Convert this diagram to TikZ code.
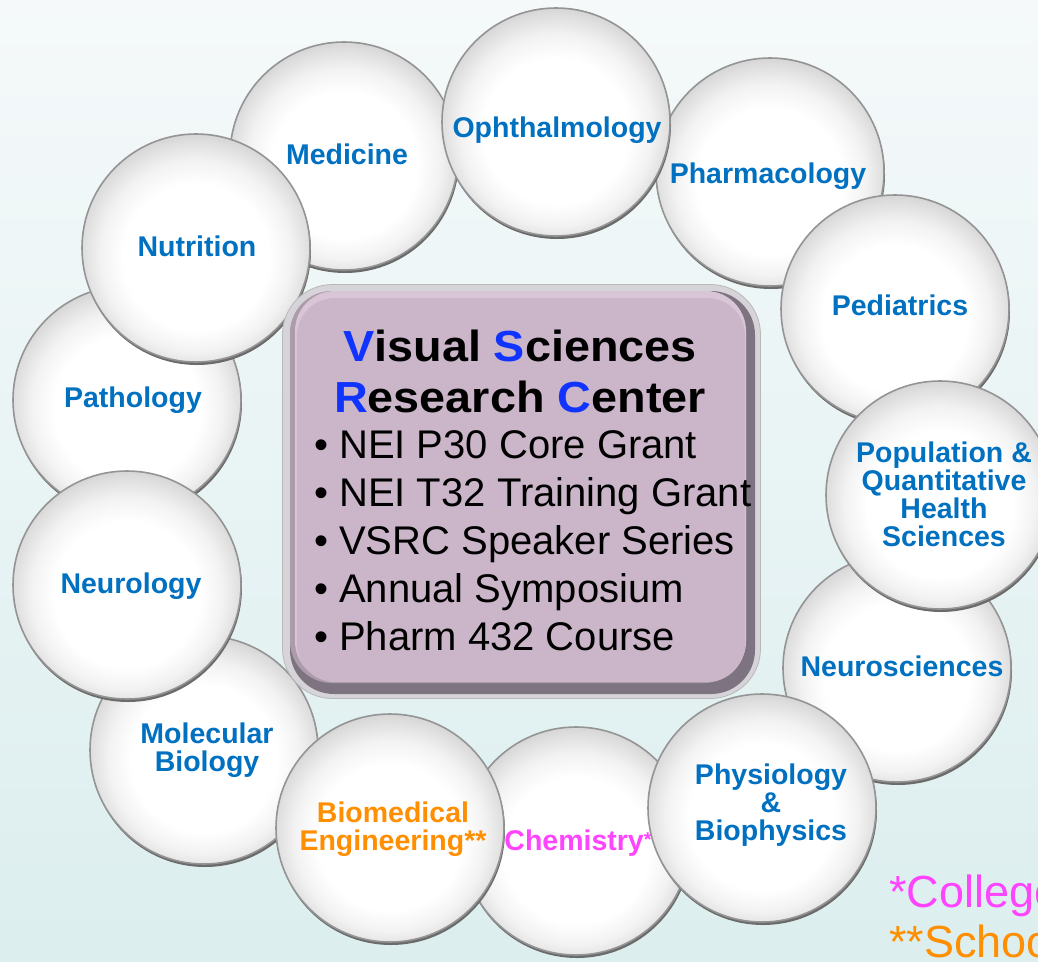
\documentclass[tikz,border=0pt]{standalone}
\usepackage{fontspec}
\setmainfont{Liberation Sans}
\newfontfamily\titlefont{Liberation Sans}[FakeStretch=1.075]
\usetikzlibrary{shadows}

\definecolor{bgtop}{HTML}{F5F9FA}
\definecolor{bgbot}{HTML}{DCEEEE}
\definecolor{lblblue}{HTML}{0070C0}
\definecolor{initblue}{HTML}{1033FF}
\definecolor{collegepink}{HTML}{FF44FF}
\definecolor{schoolorange}{HTML}{FF8F00}
\definecolor{boxrim}{HTML}{D6D4D8}
\definecolor{boxdark}{HTML}{7E7380}
\definecolor{boxleft}{HTML}{AC9BAB}
\definecolor{boxlight}{HTML}{D8C5D6}
\definecolor{boxfill}{HTML}{CBB5C9}

% glassy bubble: white core, soft grey band inside the upper rim
% (the central 50bp square of a shading is fitted to the path, so the rim sits at 25bp)
\pgfdeclareradialshading{glass}{\pgfpoint{0bp}{-3bp}}{%
  color(0bp)=(white); color(16bp)=(white); color(21bp)=(black!5);
  color(25bp)=(black!13); color(28bp)=(black!20); color(50bp)=(black!20)}

% struts that fix the line box of each text style
\newcommand\lblstrut{\rule[-7pt]{0pt}{28pt}}
\newcommand\ttlstrut{\rule[-10pt]{0pt}{44pt}}
\newcommand\itmstrut{\rule[-10pt]{0pt}{40pt}}

\tikzset{
  bubble/.style={circle, minimum size=228pt, inner sep=0pt,
    draw=black!42, line width=1.6pt, shade, shading=glass,
    drop shadow={shadow xshift=1pt, shadow yshift=-3pt, fill=black!58, opacity=1}},
  lbl/.style={font=\bfseries\fontsize{28.5}{28}\selectfont, text=lblblue,
    align=center, inner sep=0pt},
  vsrcbox/.style={rectangle, rounded corners=50pt, minimum width=478pt,
    minimum height=414pt, fill=boxrim, draw=black!28, line width=0.8pt},
  ttl/.style={font=\titlefont\bfseries\fontsize{43.5}{51}\selectfont,
    align=center, inner sep=0pt},
  items/.style={font=\fontsize{40}{48}\selectfont, align=left, inner sep=0pt},
  note/.style={font=\fontsize{45}{50}\selectfont, inner sep=0pt, anchor=base west},
}

\begin{document}
\begin{tikzpicture}[x=1pt, y=-1pt]
  \useasboundingbox (0,0) rectangle (1038,961);
  \clip (0,0) rectangle (1038,961);
  \shade[top color=bgtop, bottom color=bgbot] (0,0) rectangle (1038,961);

  % ring of departments, back to front
  \node[bubble] (med) at (344,156) {};
  \node[lbl] (med-t) at (347,157) {\lblstrut Medicine};

  \node[bubble] (pha) at (770,172) {};
  \node[lbl] (pha-t) at (768,176) {\lblstrut Pharmacology};

  \node[bubble] (oph) at (556,122) {};
  \node[lbl] (oph-t) at (557,130) {\lblstrut Ophthalmology};

  \node[bubble] (ped) at (895,309) {};
  \node[lbl] (ped-t) at (900,308) {\lblstrut Pediatrics};

  \node[bubble] (nsc) at (897,668) {};
  \node[lbl] (nsc-t) at (902,669) {\lblstrut Neurosciences};

  \node[bubble] (pop) at (940,495) {};
  \node[lbl] (pop-t) at (944,497) {\lblstrut Population \&\\\lblstrut Quantitative\\
    \lblstrut Health\\\lblstrut Sciences};

  \node[bubble] (che) at (576,841) {};
  \node[lbl, text=collegepink] (che-t) at (578,843)
    {\lblstrut Chemistry\raisebox{4pt}{\fontsize{20}{20}\selectfont *}};

  \node[bubble] (phy) at (762,808) {};
  \node[lbl] (phy-t) at (771,805) {\lblstrut Physiology\\\lblstrut \&\\\lblstrut Biophysics};

  \node[bubble] (mol) at (204,750) {};
  \node[lbl] (mol-t) at (207,750) {\lblstrut Molecular\\\lblstrut Biology};

  \node[bubble] (bme) at (390,828) {};
  \node[lbl, text=schoolorange] (bme-t) at (393,829)
    {\lblstrut Biomedical\\\lblstrut Engineering**};

  \node[bubble] (pat) at (127,400) {};
  \node[lbl] (pat-t) at (133,400) {\lblstrut Pathology};

  \node[bubble] (neu) at (127,585) {};
  \node[lbl] (neu-t) at (131,586) {\lblstrut Neurology};

  \node[bubble] (nut) at (196,248) {};
  \node[lbl] (nut-t) at (197,249) {\lblstrut Nutrition};

  % central bevelled panel
  \node[vsrcbox] (vsrc) at (521.5,491.5) {};
  \fill[boxdark, rounded corners=44pt] (290,291) rectangle (755,694);
  \fill[boxleft, rounded corners=42pt] (290,291) rectangle (746,683);
  \fill[boxlight, rounded corners=40pt] (295,291) rectangle (746,681);
  \fill[boxfill, rounded corners=38pt] (297,298) rectangle (745,682);

  \node[ttl] (vsrc-title) at (520,374.5)
    {\ttlstrut\textcolor{initblue}{V}isual \textcolor{initblue}{S}ciences\\
     \ttlstrut\textcolor{initblue}{R}esearch \textcolor{initblue}{C}enter};
  \node[items, anchor=west] (vsrc-items) at (314,544)
    {\itmstrut\makebox[25pt][l]{•}NEI P30 Core Grant\\
     \itmstrut\makebox[25pt][l]{•}NEI T32 Training Grant\\
     \itmstrut\makebox[25pt][l]{•}VSRC Speaker Series\\
     \itmstrut\makebox[25pt][l]{•}Annual Symposium\\
     \itmstrut\makebox[25pt][l]{•}Pharm 432 Course};

  % footnotes, running off the right edge
  \node[note, text=collegepink] (college) at (889,907) {*College};
  \node[note, text=schoolorange] (school) at (889,957) {**School};
\end{tikzpicture}
\end{document}
